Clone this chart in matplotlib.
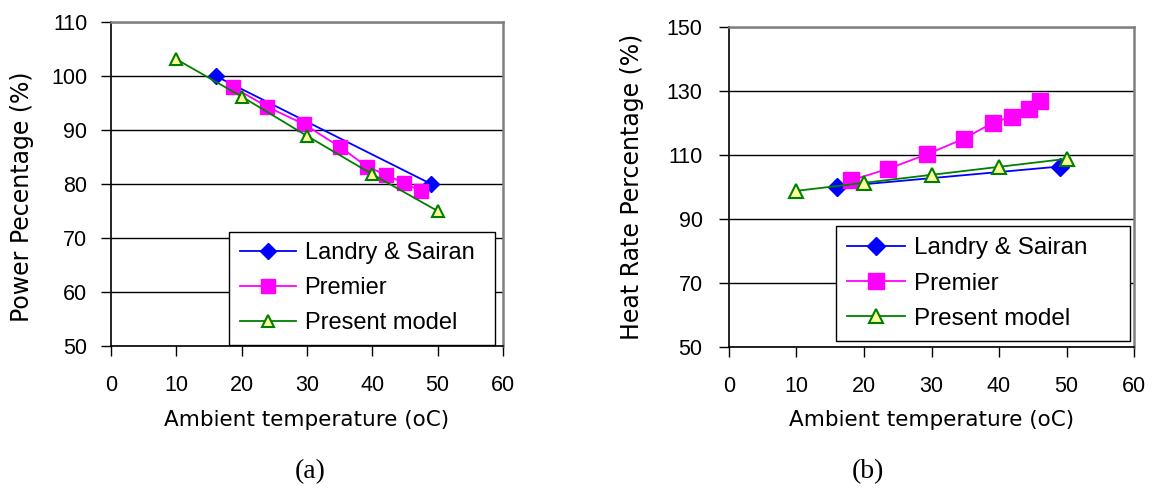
import matplotlib
matplotlib.use("Agg")
import matplotlib.pyplot as plt

plt.rcParams['font.family'] = ['Liberation Sans', 'DejaVu Sans']

# (a) Power percentage
a_landry_t = [16, 49]
a_landry_v = [100, 80]
a_premier_t = [18.6, 23.9, 29.5, 35.0, 39.2, 42.1, 44.8, 47.4]
a_premier_v = [98.0, 94.3, 91.1, 86.9, 83.2, 81.7, 80.2, 78.7]
a_model_t = [10, 20, 30, 40, 50]
a_model_v = [103.1, 96.2, 88.9, 81.8, 75.0]

# (b) Heat rate percentage
b_landry_t = [16, 49]
b_landry_v = [100.1, 106.4]
b_premier_t = [18.1, 23.6, 29.3, 34.8, 39.1, 41.9, 44.5, 46.1]
b_premier_v = [102.1, 105.7, 110.2, 115.1, 120.1, 122.0, 124.5, 126.9]
b_model_t = [10, 20, 30, 40, 50]
b_model_v = [98.8, 101.3, 103.8, 106.3, 108.8]

series_names = ["Landry & Sairan", "Premier", "Present model"]
x_ticks = [0, 10, 20, 30, 40, 50, 60]
a_yticks = [50, 60, 70, 80, 90, 100, 110]
b_yticks = [50, 70, 90, 110, 130, 150]

W, H = 1156, 490
fig = plt.figure(figsize=(W / 100, H / 100), dpi=100)


def box(l, r, t, b):
    return [l / W, (H - b) / H, (r - l) / W, (b - t) / H]


def draw(ax, lt, lv, pt, pv, mt, mv, yticks, ylabel, leg_anchor, msz,
         ylab_xy, ypad, legfs, legsp):
    dms, sms, tms = msz
    ax.plot(lt, lv, color='#0000FF', lw=1.3, marker='D', ms=dms,
            mfc='#0000FF', mec='#0000FF', label=series_names[0], zorder=3)
    ax.plot(pt, pv, color='#FF00FF', lw=1.3, marker='s', ms=sms,
            mfc='#FF00FF', mec='#FF00FF', label=series_names[1], zorder=4)
    ax.plot(mt, mv, color='#008000', lw=1.3, marker='^', ms=tms,
            mfc='#FFFF99', mec='#008000', mew=1.5, label=series_names[2], zorder=5)
    ax.set_xlim(0, 60)
    ax.set_ylim(yticks[0], yticks[-1])
    ax.set_xticks(x_ticks)
    ax.set_yticks(yticks)
    ax.yaxis.grid(True, color='#000000', lw=1)
    ax.set_axisbelow(True)
    for s in ('top', 'right'):
        ax.spines[s].set_color('#808080')
        ax.spines[s].set_linewidth(1.8)
    for s in ('left', 'bottom'):
        ax.spines[s].set_color('#000000')
        ax.spines[s].set_linewidth(1.2)
    ax.tick_params(direction='out', length=7, width=1, labelsize=15.5)
    ax.tick_params(axis='x', pad=14)
    ax.tick_params(axis='y', pad=ypad)
    ax.set_xlabel("Ambient temperature (oC)", fontsize=15.5,
                  family=['DejaVu Sans'])
    ax.xaxis.label.set_va('center')
    ax.xaxis.set_label_coords(0.5, -0.228)
    ax.set_ylabel(ylabel, fontsize=17, family=['DejaVu Sans'])
    ax.yaxis.label.set_va('center')
    ax.yaxis.set_label_coords(*ylab_xy)
    leg = ax.legend(loc='lower left', bbox_to_anchor=leg_anchor, mode='expand',
                    borderaxespad=0, fancybox=False, edgecolor='#000000',
                    framealpha=1, fontsize=legfs, handlelength=2.4,
                    labelspacing=legsp, handletextpad=0.35, borderpad=0.45)
    leg.get_frame().set_linewidth(1.0)


ax1 = fig.add_axes(box(111, 503, 22, 346))
draw(ax1, a_landry_t, a_landry_v, a_premier_t, a_premier_v, a_model_t, a_model_v,
     a_yticks, "Power Pecentage (%)", (0.301, 0.003, 0.679, 0.346),
     (8, 9.5, 8.5), (-0.228, 0.46), 10, 17, 0.55)

ax2 = fig.add_axes(box(729, 1134, 27, 347))
draw(ax2, b_landry_t, b_landry_v, b_premier_t, b_premier_v, b_model_t, b_model_v,
     b_yticks, "Heat Rate Percentage (%)", (0.264, 0.019, 0.726, 0.362),
     (9, 11, 10), (-0.24, 0.5), 12, 17.5, 0.55)

fig.text(310 / W, 1 - 472 / H, "(a)", family='Liberation Serif', fontsize=20,
         ha='center', va='center')
fig.text(868 / W, 1 - 472 / H, "(b)", family='Liberation Serif', fontsize=20,
         ha='center', va='center')

fig.savefig("out.png", dpi=100)
